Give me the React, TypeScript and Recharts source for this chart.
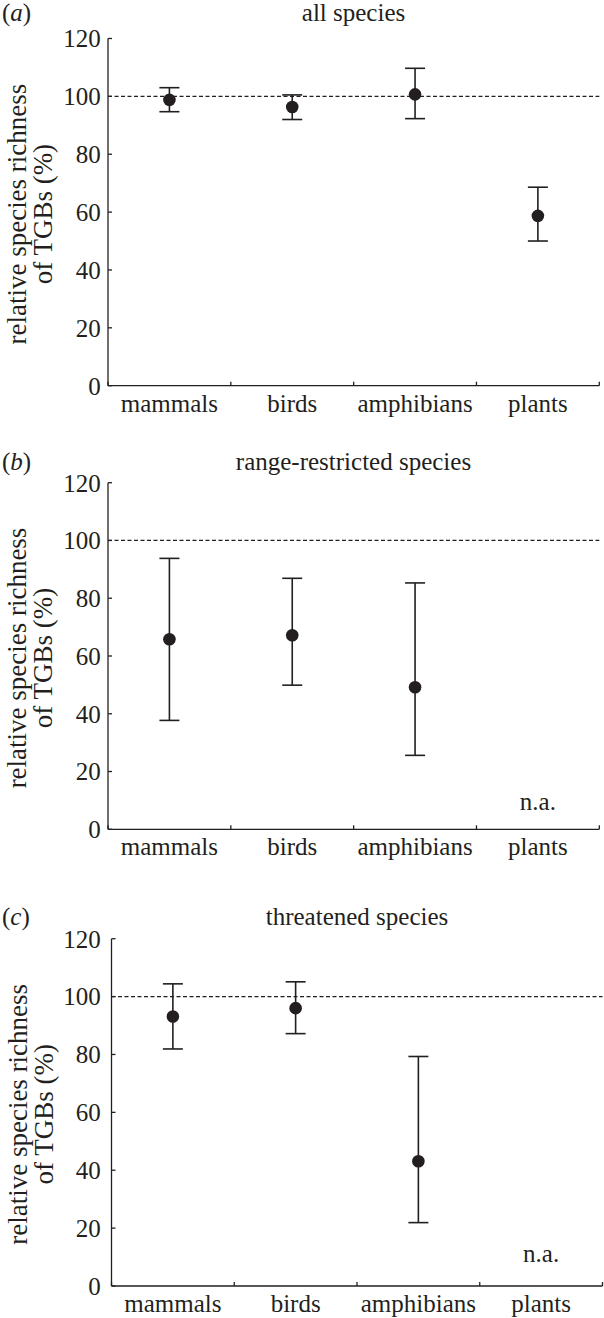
import React from 'react'
import { ScatterChart, Scatter, XAxis, YAxis, ErrorBar, ReferenceLine, ReferenceDot } from 'recharts'

const categories = ['mammals', 'birds', 'amphibians', 'plants']
const yTicks = [0, 20, 40, 60, 80, 100, 120]
const xTicks = [0, 0.5, 1, 1.5, 2, 2.5, 3, 3.5, 4]

// (a) all species
const allMean = [98.8, 96.3, 100.7, 58.7]
const allLow = [94.7, 92.0, 92.3, 50.0]
const allHigh = [103.0, 100.5, 109.7, 68.6]

// (b) range-restricted species, plants n.a.
const rangeMean = [65.8, 67.2, 49.2, null]
const rangeLow = [37.7, 49.9, 25.6, null]
const rangeHigh = [93.8, 86.9, 85.3, null]

// (c) threatened species, plants n.a.
const threatMean = [93.1, 96.0, 43.1, null]
const threatLow = [81.9, 87.2, 21.9, null]
const threatHigh = [104.4, 105.1, 79.3, null]

const INK = '#231f20'
const FONT = '"Liberation Serif", "Times New Roman", serif'
const FS = 25

type V = number | null
const rows = (mean: V[], low: V[], high: V[]) =>
  categories.flatMap((c, i) =>
    mean[i] == null ? [] : [{ name: c, x: i + 0.5, y: mean[i] as number, err: [(mean[i] as number) - (low[i] as number), (high[i] as number) - (mean[i] as number)] }])

const XTick = (props: any) => {
  const { x, y, payload } = props
  const v = payload.value
  if (Number.isInteger(v)) return <line x1={x} x2={x} y1={y} y2={y - 4} stroke={INK} strokeWidth={1.3} />
  return (
    <text x={x} y={y + 26} textAnchor="middle" fill={INK} fontSize={FS} fontFamily={FONT}>
      {categories[Math.floor(v)]}
    </text>
  )
}

const YLabel = (props: any) => {
  const vb = props.viewBox
  const cy = vb.y + vb.height / 2 + 2
  return (
    <text transform={`translate(0, ${cy}) rotate(-90)`} textAnchor="middle" fill={INK} fontSize={27} fontFamily={FONT}>
      <tspan x={0} y={26.5}>relative species richness</tspan>
      <tspan x={0} y={52.5}>of TGBs (%)</tspan>
    </text>
  )
}

const Dot = (p: any) => <circle cx={p.cx} cy={p.cy} r={6.3} fill={INK} />

interface PanelProps {
  top: number; height: number; plotTop: number; yWidth: number; plotRight: number
  data: { x: number; y: number; err: number[] }[]; na?: number
}

function Panel({ top, height, plotTop, yWidth, plotRight, data, na }: PanelProps) {
  return (
    <div style={{ position: 'absolute', left: 0, top }}>
      <ScatterChart width={604} height={height} margin={{ top: plotTop, right: 604 - plotRight, left: 0, bottom: 0 }}>
        <XAxis type="number" dataKey="x" domain={[0, 4]} ticks={xTicks} interval={0} height={32}
          tick={<XTick />} tickLine={false} tickSize={0} tickMargin={0} allowDataOverflow
          axisLine={{ stroke: INK, strokeWidth: 1.3 }} />
        <YAxis type="number" dataKey="y" domain={[0, 120]} ticks={yTicks} interval={0} width={yWidth}
          tickSize={-4} tickMargin={yWidth + 4 - 100.7} allowDataOverflow
          tick={{ fill: INK, fontSize: FS, fontFamily: FONT }}
          tickLine={{ stroke: INK, strokeWidth: 1.3 }} axisLine={{ stroke: INK, strokeWidth: 1.3 }}
          label={{ content: YLabel }} />
        <ReferenceLine y={100} stroke={INK} strokeWidth={1.2} strokeDasharray="4 2.5" />
        <Scatter data={data} fill={INK} shape={Dot} isAnimationActive={false}>
          <ErrorBar dataKey="err" direction="y" width={10} stroke={INK} strokeWidth={1.6} isAnimationActive={false} />
        </Scatter>
        {na != null && (
          <ReferenceDot x={3.5} y={na} r={0} stroke="none"
            label={{ value: 'n.a.', position: 'center', fill: INK, fontSize: FS, fontFamily: FONT }} />
        )}
      </ScatterChart>
    </div>
  )
}

const titleStyle = { fill: INK, fontSize: FS, fontFamily: FONT }

export default function App() {
  return (
    <div style={{ position: 'absolute', left: 0, top: 0, width: 604, height: 1318, overflow: 'hidden', background: '#fff' }}>
      <Panel top={0} height={417.7} plotTop={38.5} yWidth={108} plotRight={599.3}
        data={rows(allMean, allLow, allHigh)} />
      <Panel top={440} height={421.3} plotTop={42.7} yWidth={108} plotRight={599.3}
        data={rows(rangeMean, rangeLow, rangeHigh)} na={9.7} />
      <Panel top={880} height={438} plotTop={58.7} yWidth={111.5} plotRight={602.5}
        data={rows(threatMean, threatLow, threatHigh)} na={11.3} />
      <svg width={604} height={1318} style={{ position: 'absolute', left: 0, top: 0, pointerEvents: 'none' }}>
        <text x={2} y={20.5} {...titleStyle}>(<tspan fontStyle="italic">a</tspan>)</text>
        <text x={353.5} y={20.5} textAnchor="middle" {...titleStyle}>all species</text>
        <text x={2} y={469.5} {...titleStyle}>(<tspan fontStyle="italic">b</tspan>)</text>
        <text x={353.5} y={469.5} textAnchor="middle" {...titleStyle}>range-restricted species</text>
        <text x={2} y={925} {...titleStyle}>(<tspan fontStyle="italic">c</tspan>)</text>
        <text x={357} y={925} textAnchor="middle" {...titleStyle}>threatened species</text>
      </svg>
    </div>
  )
}
